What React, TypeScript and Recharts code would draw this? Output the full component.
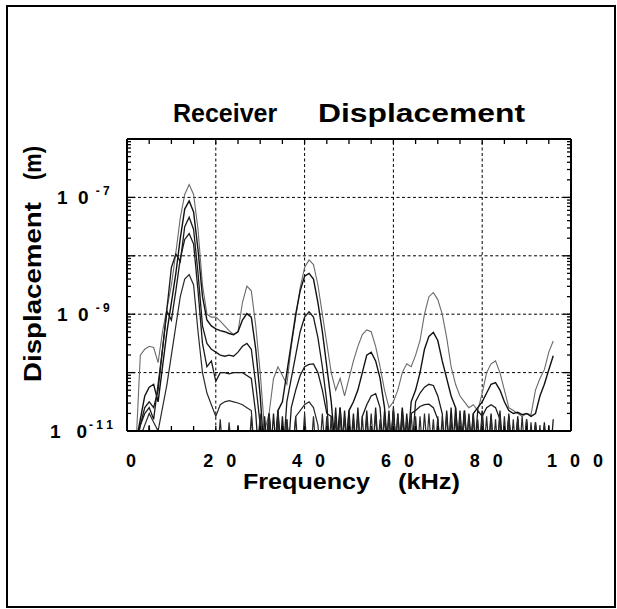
import { LineChart, Line, XAxis, YAxis, ReferenceLine } from "recharts";

// frequency samples (kHz)
const freq = [
  2, 3, 4, 5, 6, 7, 8, 9, 10, 11,
  12, 13, 14, 15, 16, 17, 18, 19, 20, 21,
  22, 23, 24, 25, 26, 27, 28, 29, 30, 31,
  32, 33, 34, 35, 36, 37, 38, 39, 40, 41,
  42, 43, 44, 45, 46, 47, 48, 49, 50, 51,
  52, 53, 54, 55, 56, 57, 58, 59, 60, 61,
  62, 63, 64, 65, 66, 67, 68, 69, 70, 71,
  72, 73, 74, 75, 76, 77, 78, 79, 80, 81,
  82, 83, 84, 85, 86, 87, 88, 89, 90, 91,
  92, 93, 94, 95, 96,
];

// displacement per receiver, stored as log10(m)
const rx1 = [
  -11.3, -9.7, -9.6, -9.55, -9.57, -9.83, -9.3, -8.9, -8.5, -7.95,
  -7.35, -6.95, -6.78, -6.95, -7.55, -8.5, -9.0, -9.05, -9.05, -9.12,
  -9.2, -9.28, -9.35, -9.3, -8.8, -8.52, -8.6, -9.2, -10.0, -11.0,
  -10.7, -10.1, -9.9, -10.05, -10.2, -9.55, -9.05, -8.55, -8.2, -8.07,
  -8.15, -8.5, -9.0, -9.5, -10.0, -10.3, -10.1, -10.4, -10.1, -9.8,
  -9.55, -9.35, -9.27, -9.3, -9.55, -9.9, -10.3, -10.6, -10.5, -10.3,
  -10.0, -9.85, -9.9, -9.7, -9.45, -9.0, -8.7, -8.63, -8.75, -9.0,
  -9.4, -9.9, -10.2, -10.4, -10.5, -10.6, -10.55, -10.65, -10.35, -10.0,
  -9.85, -9.8, -10.0, -10.3, -10.6, -10.65, -10.7, -10.75, -10.7, -10.72,
  -10.3, -10.1, -9.95, -9.65, -9.46,
];
const rx2 = [
  -11.2, -10.8, -10.4, -10.25, -10.2, -10.5, -9.9, -9.3, -8.8, -8.3,
  -7.7, -7.2, -7.06, -7.25, -7.9, -8.7, -9.1, -9.2, -9.25, -9.28,
  -9.3, -9.33, -9.35, -9.3, -9.1, -8.99, -9.05, -9.6, -10.4, -11.5,
  -10.7, -11.6, -10.65, -10.5, -10.0, -9.5, -9.0, -8.6, -8.35, -8.3,
  -8.4, -8.8, -9.3, -9.9, -10.5, -11.4, -10.6, -11.6, -10.65, -10.5,
  -10.3, -10.0, -9.7, -9.65, -9.8, -10.1, -10.6, -11.6, -10.65, -11.7,
  -10.6, -11.5, -10.5, -10.3, -10.0, -9.6, -9.38, -9.31, -9.45, -9.8,
  -10.1, -10.4, -10.6, -11.5, -10.65, -11.6, -10.7, -10.6, -10.5, -10.35,
  -10.2, -10.17, -10.3, -10.5, -10.65, -10.7, -10.68, -10.72, -10.7, -10.75,
  -10.7, -10.4, -10.2, -9.95, -9.71,
];
const rx3 = [
  -11.3, -10.9, -10.6, -10.5, -10.6, -10.3, -9.6, -8.9, -8.2, -7.97,
  -8.1, -7.5, -7.34, -7.55, -8.3, -9.2, -9.5, -9.6, -9.65, -9.7,
  -9.72, -9.7, -9.72, -9.65, -9.55, -9.5, -9.6, -10.2, -10.9, -11.8,
  -10.7, -11.8, -10.65, -11.6, -10.5, -10.1, -9.7, -9.3, -9.05, -8.96,
  -9.05, -9.4, -9.9, -10.5, -11.8, -10.6, -11.8, -10.65, -11.7, -10.7,
  -11.8, -10.75, -10.55, -10.4, -10.36, -10.6, -11.7, -10.65, -11.8, -10.7,
  -11.8, -10.7, -11.5, -10.5, -10.35, -10.25, -10.2, -10.22, -10.4, -10.7,
  -11.8, -10.6, -11.8, -10.65, -11.7, -10.7, -11.6, -10.65, -10.75, -10.6,
  -10.55, -10.6, -10.8, -11.7, -10.7, -11.8, -10.75, -11.7, -10.8, -11.8,
  -10.85, -11.8, -10.85, -11.8, -10.8,
];
const rx4 = [
  -11.2, -10.9, -10.7, -10.6, -10.8, -10.2, -9.6, -8.95, -9.1, -8.6,
  -8.05, -7.72, -7.62, -7.8, -8.6, -9.5, -9.9, -9.8, -10.15, -10.0,
  -10.0, -10.02, -10.0, -10.0, -10.0, -10.05, -10.1, -10.7, -11.8, -10.75,
  -11.8, -10.7, -11.8, -10.75, -11.7, -10.6, -10.3, -10.05, -9.9, -9.86,
  -9.85, -10.0, -10.3, -10.7, -10.75, -11.8, -10.6, -11.8, -10.65, -11.8,
  -10.6, -11.8, -10.65, -11.8, -10.6, -11.8, -10.65, -11.8, -10.6, -11.8,
  -10.65, -11.7, -10.7, -10.65, -10.58, -10.55, -10.54, -10.6, -10.8, -11.8,
  -10.65, -11.8, -10.6, -11.8, -10.65, -11.8, -10.7, -11.8, -10.65, -11.7,
  -10.7, -11.8, -10.65, -11.8, -10.75, -11.8, -10.8, -11.8, -10.85, -11.8,
  -10.9, -11.8, -10.95, -11.8, -11.2,
];
const rx5 = [
  -11.3, -11.1, -10.9, -10.7, -10.85, -11.0, -10.6, -10.2, -9.7, -9.2,
  -8.7, -8.4, -8.32, -8.5, -9.3, -10.0, -10.35, -10.55, -10.75, -10.55,
  -10.5, -10.48, -10.5, -10.52, -10.55, -10.6, -10.65, -11.7, -10.8, -11.8,
  -10.8, -11.8, -10.75, -11.8, -10.8, -11.6, -10.75, -10.65, -10.55, -10.5,
  -10.6, -10.9, -11.8, -10.75, -11.8, -10.8, -11.8, -10.75, -11.8, -10.8,
  -11.8, -10.75, -11.8, -10.7, -11.8, -10.8, -11.8, -10.75, -11.8, -10.7,
  -11.8, -10.8, -11.8, -10.75, -11.8, -10.7, -11.7, -10.8, -11.8, -10.75,
  -11.8, -10.8, -11.8, -10.7, -11.8, -10.75, -11.8, -10.8, -11.8, -10.75,
  -11.8, -10.8, -11.8, -10.75, -11.8, -10.8, -11.8, -10.75, -11.8, -10.85,
  -11.8, -10.9, -11.8, -10.9, -11.8,
];
const rx6 = [
  -11.8, -11.0, -11.8, -10.9, -11.8, -10.95, -11.8, -11.8, -11.8, -11.8,
  -11.8, -11.8, -11.8, -11.8, -11.8, -11.8, -11.8, -11.8, -11.8, -10.8,
  -11.8, -10.85, -11.8, -10.9, -11.8, -11.8, -10.75, -11.8, -10.7, -11.8,
  -10.75, -11.8, -10.7, -11.8, -10.8, -11.8, -10.75, -11.8, -10.7, -11.8,
  -10.75, -11.8, -10.7, -11.8, -10.75, -11.8, -10.7, -11.8, -10.8, -11.8,
  -10.7, -11.8, -10.75, -11.8, -10.7, -11.8, -10.75, -11.8, -10.65, -11.8,
  -10.75, -11.8, -10.7, -11.8, -10.75, -11.8, -10.7, -11.8, -10.75, -11.8,
  -10.7, -11.8, -10.75, -11.8, -10.7, -11.8, -10.75, -11.8, -10.7, -11.8,
  -10.75, -11.8, -10.7, -11.8, -10.75, -11.8, -10.8, -11.8, -10.8, -11.8,
  -10.85, -11.8, -10.9, -11.8, -11.0,
];

const xLabelTicks = [0, 20, 40, 60, 80, 100];
const xMinorTicks = [0, 5, 10, 15, 20, 25, 30, 35, 40, 45, 50, 55, 60, 65, 70, 75, 80, 85, 90, 95, 100];
const yLabelTicks = [1e-11, 1e-9, 1e-7];
const decades = [1e-11, 1e-10, 1e-9, 1e-8, 1e-7, 1e-6];
const gridX = [20, 40, 60, 80];
const gridY = [1e-10, 1e-9, 1e-8, 1e-7];

const yAllTicks = [
  ...decades,
  ...decades.slice(0, 5).flatMap((d) => [2, 3, 4, 5, 6, 7, 8, 9].map((m) => m * d)),
].sort((a, b) => a - b);

const data = freq.map((f, i) => ({
  f,
  r1: Math.pow(10, rx1[i]),
  r2: Math.pow(10, rx2[i]),
  r3: Math.pow(10, rx3[i]),
  r4: Math.pow(10, rx4[i]),
  r5: Math.pow(10, rx5[i]),
  r6: Math.pow(10, rx6[i]),
}));

const FONT = "'Liberation Sans', Arial, Helvetica, sans-serif";

// plot frame, from the margins and axis sizes below
const W = 617;
const H = 609;
const M = { top: 139, right: 46, bottom: 148, left: 67 };
const PL = M.left + 60;
const PR = W - M.right;
const PT = M.top;
const PB = H - M.bottom - 30;

const isDecade = (v: number) => decades.some((d) => Math.abs(d - v) / d < 1e-6);

// left axis draws its own inward ticks and mirrors them on the right edge
const LeftTick = (props: any) => {
  const { y, payload } = props;
  const v = payload.value;
  const len = isDecade(v) ? 8 : 4;
  const marks = (
    <g>
      <line x1={PL} x2={PL + len} y1={y} y2={y} stroke="#000" strokeWidth={1.3} />
      <line x1={PR - len} x2={PR} y1={y} y2={y} stroke="#000" strokeWidth={1.3} />
    </g>
  );
  if (!yLabelTicks.some((t) => Math.abs(t - v) / t < 1e-6)) return marks;
  const exp = Math.round(Math.log10(v));
  const sup = ("-" + String(-exp)).split("").join(" ");
  const start = exp <= -10 ? 50 : 57;
  return (
    <g>
      {marks}
      <text x={start} y={y + 7} textAnchor="start" fontFamily={FONT} fontWeight="bold" fontSize={19} fill="#000" style={{ whiteSpace: "pre" }}>
        <tspan>{exp <= -10 ? "1   0" : "1  0"}</tspan>
        <tspan dx={exp <= -10 ? 2 : 7} dy={-9} fontSize={12}>{sup}</tspan>
      </text>
    </g>
  );
};

// bottom axis draws inward ticks on bottom and top edges
const BottomTick = (props: any) => {
  const { x, payload } = props;
  const marks = (
    <g>
      <line x1={x} x2={x} y1={PB - 5} y2={PB} stroke="#000" strokeWidth={1.3} />
      <line x1={x} x2={x} y1={PT} y2={PT + 5} stroke="#000" strokeWidth={1.3} />
    </g>
  );
  if (!xLabelTicks.includes(payload.value)) return marks;
  const label = String(payload.value).split("").join(" ");
  return (
    <g>
      {marks}
      <text x={x + 6} y={PB + 36} textAnchor="middle" fontFamily={FONT} fontWeight="bold" fontSize={18} letterSpacing={4} fill="#000" style={{ whiteSpace: "pre" }}>
        {label}
      </text>
    </g>
  );
};

const lines = [
  { key: "r1", color: "#6a6a6a", w: 1.1 },
  { key: "r2", color: "#111", w: 1.4 },
  { key: "r3", color: "#1a1a1a", w: 1.3 },
  { key: "r4", color: "#1a1a1a", w: 1.3 },
  { key: "r5", color: "#2a2a2a", w: 1.2 },
  { key: "r6", color: "#2a2a2a", w: 1.2 },
];

const axisStroke = { stroke: "#000", strokeWidth: 2 };

export default function App() {
  return (
    <div style={{ position: "absolute", left: 0, top: 0, width: W, height: H, background: "#fff" }}>
      <div style={{ position: "absolute", left: 6, top: 5, width: 610, height: 603, border: "2px solid #000", boxSizing: "border-box" }} />
      <LineChart width={W} height={H} data={data} margin={M}>
        <XAxis xAxisId="b" dataKey="f" type="number" domain={[0, 100]} allowDataOverflow ticks={xMinorTicks} interval={0} height={30}
          axisLine={axisStroke} tickLine={false} tick={<BottomTick />} />
        <YAxis yAxisId="l" scale="log" type="number" domain={[1e-11, 1e-6]} allowDataOverflow ticks={yAllTicks} interval={0} width={60}
          axisLine={axisStroke} tickLine={false} tick={<LeftTick />} />
        {gridY.map((v) => (
          <ReferenceLine key={"gy" + v} xAxisId="b" yAxisId="l" y={v} stroke="#000" strokeWidth={1} strokeDasharray="3 2.5" />
        ))}
        {gridX.map((v) => (
          <ReferenceLine key={"gx" + v} xAxisId="b" yAxisId="l" x={v} stroke="#000" strokeWidth={1} strokeDasharray="3 2.5" />
        ))}
        {lines.map((l) => (
          <Line key={l.key} xAxisId="b" yAxisId="l" dataKey={l.key} type="linear" stroke={l.color} strokeWidth={l.w}
            dot={false} isAnimationActive={false} />
        ))}
        <ReferenceLine xAxisId="b" yAxisId="l" y={1e-6} stroke="#000" strokeWidth={2} />
        <ReferenceLine xAxisId="b" yAxisId="l" x={100} stroke="#000" strokeWidth={2} />
      </LineChart>
      <svg width={W} height={H} style={{ position: "absolute", left: 0, top: 0, pointerEvents: "none" }}>
        <text x={173} y={122} fontFamily={FONT} fontWeight="bold" fontSize={25} fill="#000">
          Receiver
        </text>
        <text x={318} y={122} textLength={207} lengthAdjust="spacingAndGlyphs" fontFamily={FONT} fontWeight="bold" fontSize={25} fill="#000">
          Displacement
        </text>
        <text x={243} y={489} textLength={127} lengthAdjust="spacingAndGlyphs" fontFamily={FONT} fontWeight="bold" fontSize={22} fill="#000">
          Frequency
        </text>
        <text x={398} y={489} textLength={62} lengthAdjust="spacingAndGlyphs" fontFamily={FONT} fontWeight="bold" fontSize={22} fill="#000">
          (kHz)
        </text>
        <g transform="translate(41 382) rotate(-90)">
          <text x={0} y={0} textLength={180} lengthAdjust="spacingAndGlyphs" fontFamily={FONT} fontWeight="bold" fontSize={23} fill="#000">
            Displacement
          </text>
          <text x={202} y={0} textLength={34} lengthAdjust="spacingAndGlyphs" fontFamily={FONT} fontWeight="bold" fontSize={23} fill="#000">
            (m)
          </text>
        </g>
      </svg>
    </div>
  );
}
